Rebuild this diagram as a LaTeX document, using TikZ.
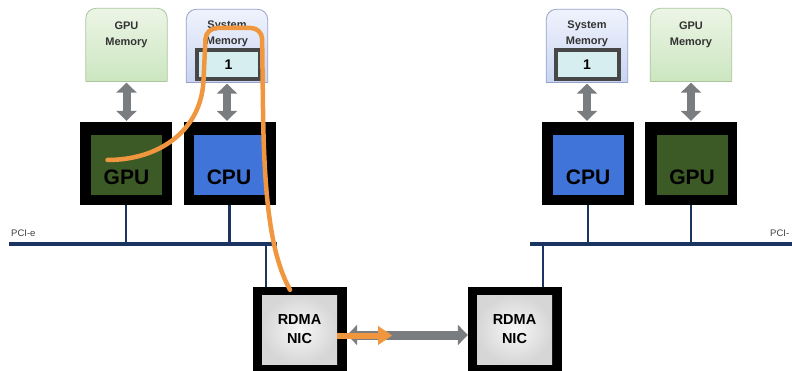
\documentclass[tikz,border=0pt]{standalone}
\usepackage{fontspec}
\setmainfont{Liberation Sans}
\usetikzlibrary{positioning}
\usetikzlibrary{calc,arrows.meta}
\definecolor{busblue}{RGB}{27,52,98}
\definecolor{gmemtop}{RGB}{236,245,230}
\definecolor{gmembot}{RGB}{204,230,192}
\definecolor{gmemline}{RGB}{170,198,158}
\definecolor{smemtop}{RGB}{240,243,252}
\definecolor{smembot}{RGB}{200,212,242}
\definecolor{smemline}{RGB}{150,162,200}
\definecolor{onefill}{RGB}{214,238,240}
\definecolor{gpugreen}{RGB}{60,90,38}
\definecolor{cpublue}{RGB}{64,116,216}
\definecolor{pathorange}{RGB}{240,150,62}
\definecolor{arrowgray}{RGB}{122,125,128}

\begin{document}
\begin{tikzpicture}
	[   x=1pt,y=-1pt,
	    mnode/.style={minimum width=81pt,minimum height=73pt,inner sep=0pt},
	    mtext/.style={font=\bfseries\fontsize{11}{16.5}\selectfont,align=center,inner sep=0pt,text=black!80},
	    onode/.style={draw=black!72,line width=4pt,fill=onefill,minimum width=63pt,minimum height=29pt,inner sep=0pt,font=\bfseries\fontsize{14}{14}\selectfont},
	    cnode/.style={fill=black,minimum width=92pt,minimum height=83pt,inner sep=0pt},
	    pnode/.style={fill=#1,minimum width=71pt,minimum height=60pt,inner sep=0pt,font=\bfseries\fontsize{21}{21}\selectfont,text height=39pt,text depth=0pt},
	    rnode/.style={fill=black,minimum width=94pt,minimum height=84pt,inner sep=0pt},
	    nnode/.style={inner color=gray!6,outer color=gray!32,minimum width=75pt,minimum height=69pt,inner sep=0pt,align=center,font=\bfseries\fontsize{14.5}{19}\selectfont},
	    pcilabel/.style={font=\fontsize{9.5}{9.5}\selectfont,text=black!75,inner sep=0pt},
	]
	\tikzset{bus line/.style={draw=busblue,line width=4.5pt},
	         link line/.style={draw=busblue,line width=2.6pt},
	         mem arrow/.style={draw=arrowgray,line width=8pt,{Triangle[width=20pt,length=10pt]}-{Triangle[width=20pt,length=10pt]}},
	         orange path/.style={draw=pathorange,line width=4.5pt,line cap=round}}
	\useasboundingbox (0,0) rectangle (792,371);

	% memories
	\node[mnode] (m-1) at (126.5,45) {};
	\node[mnode] (m-2) at (227,46) {};
	\node[mnode] (m-3) at (587,46) {};
	\node[mnode] (m-4) at (691,45) {};

	\foreach \m/\t/\b/\l in {m-1/gmemtop/gmembot/gmemline,m-2/smemtop/smembot/smemline,m-3/smemtop/smembot/smemline,m-4/gmemtop/gmembot/gmemline}
	{
		\shade[top color=\t,bottom color=\b,rounded corners=10pt] (\m.south west) -- (\m.north west) -- (\m.north east) -- (\m.south east);
		\draw[\l,line width=0.8pt,rounded corners=10pt] (\m.south west) -- (\m.north west) -- (\m.north east) -- (\m.south east);
		\draw[\l,line width=0.8pt] (\m.south west) -- (\m.south east);
	}

	\node[mtext,below=13pt of m-1.north] (t-1) {GPU\\Memory};
	\node[mtext,below=11pt of m-2.north] (t-2) {System\\Memory};
	\node[mtext,below=11pt of m-3.north] (t-3) {System\\Memory};
	\node[mtext,below=13pt of m-4.north] (t-4) {GPU\\Memory};

	\node[onode] (o-1) at (228.5,64.5) {1};
	\node[onode] (o-2) at (587,64.5) {1};

	% chips
	\node[cnode] (c-1) at (126,163.5) {};
	\node[cnode] (c-2) at (229.5,163.5) {};
	\node[cnode] (c-3) at (588,163.5) {};
	\node[cnode] (c-4) at (691,163.5) {};

	\node[pnode=gpugreen] (p-1) at (126.5,165) {GPU};
	\node[pnode=cpublue] (p-2) at (229,165) {CPU};
	\node[pnode=cpublue] (p-3) at (588,165) {CPU};
	\node[pnode=gpugreen] (p-4) at (692,165) {GPU};

	\foreach \x in {1,...,4}
	{
		\path[mem arrow] ([yshift=-1pt]m-\x.south) -- ([yshift=1pt]m-\x.south |- c-\x.north);
	}

	% nics
	\node[rnode] (r-1) at (300,329) {};
	\node[rnode] (r-2) at (515,329) {};
	\node[nnode] (n-1) at (299.5,329.5) {RDMA\\NIC};
	\node[nnode] (n-2) at (514.5,329.5) {RDMA\\NIC};

	% pci-e
	\coordinate (b-1) at (9,244);
	\coordinate (b-2) at (277,244);
	\coordinate (b-3) at (530,244);
	\coordinate (b-4) at (792,244);
	\path[bus line] (b-1) -- (b-2);
	\path[bus line] (b-3) -- (b-4);
	\node[pcilabel,anchor=south west] (l-1) at (11,237) {PCI-e};
	\node[pcilabel,anchor=south west] (l-2) at (770,237) {PCI-};

	\foreach \x in {1,2}
	{
		\path[link line] (c-\x.south) -- (c-\x.south |- b-1);
	}
	\foreach \x in {3,4}
	{
		\path[link line] (c-\x.south) -- (c-\x.south |- b-3);
	}
	\path[link line] ([xshift=-34pt]r-1.north) -- ([xshift=-34pt]r-1.north |- b-1);
	\path[link line] ([xshift=28pt]r-2.north) -- ([xshift=28pt]r-2.north |- b-3);

	\path[mem arrow,line width=9pt] ([yshift=-6pt]r-1.east) -- ([yshift=-6pt]r-2.west);

	% data path
	\path[orange path,rounded corners=11pt] ($(p-1.center)+(-19,-5)$) .. controls (160,160) and (201,130) .. (204,70) -- (206,28) -- (262,28) -- (263,110) .. controls (265,220) and (275,262) .. ($(r-1.north)+(-10,3)$);
	\path[draw=pathorange,line width=6pt,-{Triangle[width=18pt,length=14pt]}] ([yshift=-6pt]n-1.east) -- ++(55,0);

\end{tikzpicture}
\end{document}
